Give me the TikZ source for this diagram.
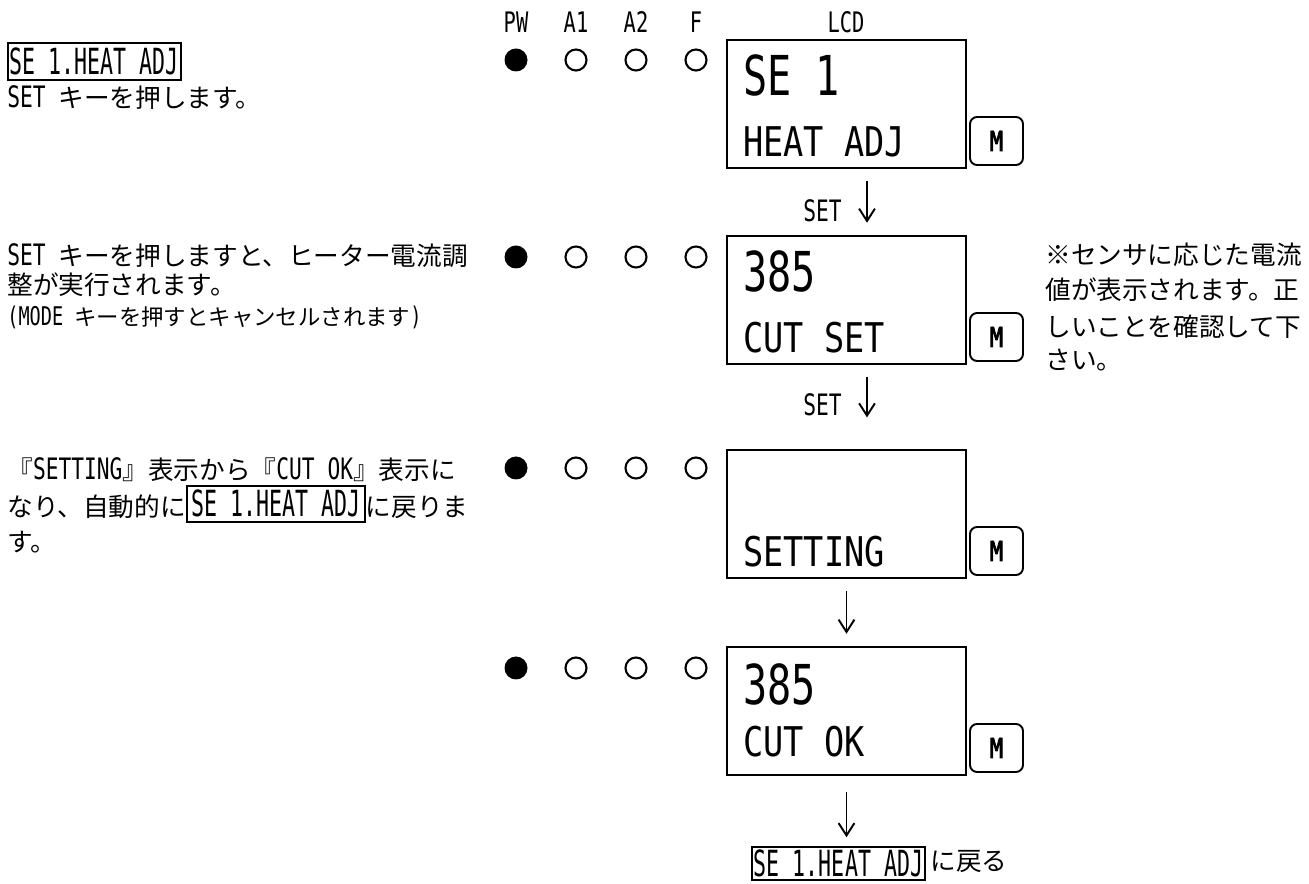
\documentclass[tikz,border=0pt]{standalone}
\usepackage{fontspec}
\usetikzlibrary{arrows.meta,positioning}
\setmainfont[Scale=1.15,FakeStretch=0.72]{DejaVu Sans Mono}
\newfontfamily\jp{Noto Sans CJK JP}
\newfontfamily\tagfont[FakeStretch=0.6]{DejaVu Sans Mono}
\newfontfamily\lcdbig[FakeStretch=0.73]{DejaVu Sans Mono}
\newfontfamily\lcdsmall[FakeStretch=0.82]{DejaVu Sans Mono}
\newfontfamily\keyfont[FakeStretch=0.8,FakeBold=3]{DejaVu Sans Mono}
\newcommand{\keybox}[1]{{\setlength{\fboxsep}{2pt}\setlength{\fboxrule}{1.1pt}\fbox{\fontsize{20.5}{20}\tagfont #1}}}

\begin{document}
\begin{tikzpicture}[x=0.02cm, y=-0.02cm,
  txt/.style={anchor=base west, inner sep=0pt, font=\fontsize{14.6}{16}\selectfont},
  small/.style={anchor=base west, inner sep=0pt, font=\fontsize{12.75}{14}\selectfont},
  tag/.style={draw, line width=1.1pt, minimum width=3.46cm, minimum height=0.74cm, inner sep=0pt, font=\fontsize{20.5}{20}\tagfont},
  hdr/.style={inner sep=0pt, font=\fontsize{14}{14}\selectfont},
  ledon/.style={circle, fill=black, minimum size=0.46cm, inner sep=0pt},
  ledoff/.style={circle, draw, line width=1.2pt, minimum size=0.42cm, inner sep=0pt},
  lcd/.style={draw, line width=1.1pt, minimum width=4.78cm, minimum height=2.56cm, inner sep=0pt},
  big/.style={anchor=west, inner sep=0pt, font=\fontsize{31.3}{32}\lcdbig},
  row/.style={anchor=west, inner sep=0pt, font=\fontsize{23.3}{24}\lcdsmall},
  mkey/.style={draw, rounded corners=4pt, line width=1.1pt, minimum width=1.06cm, minimum height=0.96cm, inner sep=0pt, font=\fontsize{15.6}{16}\keyfont},
  flow/.style={line width=1.1pt, -{Straight Barb[length=7pt,width=9pt]}},
  setlbl/.style={inner sep=0pt, font=\fontsize{14.6}{16}\selectfont}]
\useasboundingbox (0,0) rectangle (1309,884);

% header
\node[hdr] (hpw) at (516,22) {PW};
\node[hdr] (ha1) at (576,22) {A1};
\node[hdr] (ha2) at (636,22) {A2};
\node[hdr] (hf) at (696,22) {F};
\node[hdr] (hlcd) at (846,22) {LCD};

% lamps
\foreach \n/\y in {1/60,2/257,3/468,4/668}{
  \node[ledon] (pw\n) at (516,\y) {};
  \node[ledoff] (aa\n) at (576,\y) {};
  \node[ledoff] (ab\n) at (636,\y) {};
  \node[ledoff] (f\n) at (696,\y) {};
}

% displays
\node[lcd] (lcd1) at (846.5,104) {};
\node[big] (d1a) at (743,75) {SE 1};
\node[row] (d1b) at (743,142) {HEAT ADJ};
\node[mkey] (m1) at (996.5,141) {M};

\node[lcd] (lcd2) at (846.5,300) {};
\node[big] (d2a) at (743,271) {385};
\node[row] (d2b) at (743,338) {CUT SET};
\node[mkey] (m2) at (996.5,337) {M};

\node[lcd] (lcd3) at (846.5,514) {};
\node[row] (d3b) at (743,552) {SETTING};
\node[mkey] (m3) at (996.5,551) {M};

\node[lcd] (lcd4) at (846.5,711) {};
\node[big] (d4a) at (743,684) {385};
\node[row] (d4b) at (743,742) {CUT OK};
\node[mkey] (m4) at (996.5,748) {M};

\node[tag, anchor=north, minimum height=0.66cm] (ret) at (838.5,846) {SE 1.HEAT ADJ};
\node[txt, anchor=west] (retj) at (930,862) {\jp に戻る};

% arrows
\coordinate (setx) at (867,0);
\draw[flow, shorten <=7pt, shorten >=7pt] (lcd1.south -| setx) -- (lcd2.north -| setx);
\node[setlbl] (s1) at (822.5,211) {SET};
\draw[flow, shorten <=7pt, shorten >=18pt] (lcd2.south -| setx) -- (lcd3.north -| setx);
\node[setlbl] (s2) at (822.5,405) {SET};
\draw[flow, shorten <=7pt, shorten >=7pt] (lcd3) -- (lcd4);
\draw[flow, shorten <=9pt, shorten >=5pt] (lcd4.south) -- (lcd4.south |- ret.north);

% explanations
\node[tag, anchor=west] (t1) at (7,61.5) {SE 1.HEAT ADJ};
\node[txt] (r1) at (7,108) {SET {\jp キーを押します。}};

\node[txt] (r2a) at (7,266) {SET {\jp キーを押しますと、ヒーター電流調}};
\node[txt] (r2b) at (7,295) {\jp 整が実行されます。};
\node[small] (r2c) at (7,326) {(MODE {\jp キーを押すとキャンセルされます})};

\foreach \n/\y/\t in {1/265/※センサに応じた電流, 2/300/値が表示されます。正, 3/337/しいことを確認して下, 4/370/さい。}
  \node[txt] (note\n) at (1045,\y) {\jp \t};

\node[txt] (r3a) at (7,480) {{\jp 『}SETTING{\jp 』表示から『}CUT OK{\jp 』表示に}};
\node[txt] (r3b) at (7,517) {{\jp なり、自動的に}\keybox{SE 1.HEAT ADJ}{\jp に戻りま}};
\node[txt] (r3c) at (7,552) {\jp す。};
\end{tikzpicture}
\end{document}
